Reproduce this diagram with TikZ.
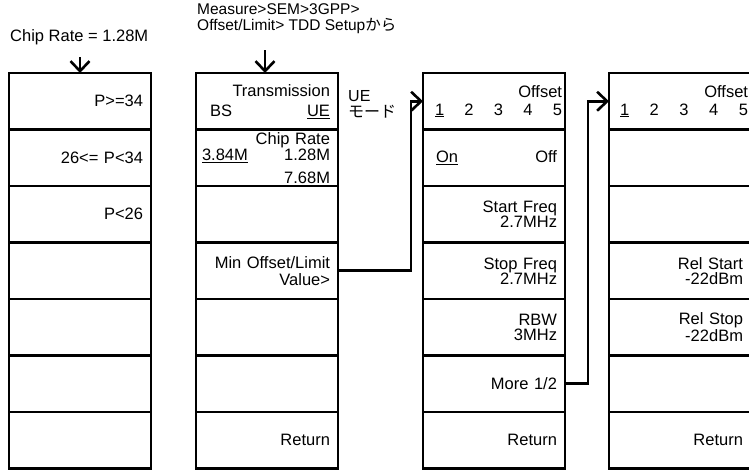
\documentclass[tikz,border=0pt]{standalone}
\usepackage{fontspec}
\setmainfont{Liberation Sans}
\newfontfamily\jpfont{Noto Sans CJK JP}
\usetikzlibrary{arrows.meta}
\newcommand{\spread}{\hspace{0pt plus 1filll}}

\begin{document}
\begin{tikzpicture}[x=1pt, y=-1pt, font=\fontsize{16.5}{16}\selectfont]
        \tikzset{
            menubox/.style={
                draw=black,
                line width=2.4pt,
                minimum width=142pt,
                minimum height=56.5pt,
                text width=126pt,
                inner xsep=8pt,
                inner ysep=0pt,
                outer sep=0pt,
                align=right
            },
            tightbox/.style={
                menubox,
                font=\fontsize{16.5}{15}\selectfont
            },
            headbox/.style={
                menubox,
                text width=136pt,
                inner xsep=3pt
            },
            caption/.style={inner sep=0pt, align=left},
            link/.style={-{Straight Barb[length=10pt, width=19pt]}, line width=2.6pt, draw=black}
        }

        \useasboundingbox (0, 0) rectangle (749, 471);

        % labels above the menus
        \node[caption, anchor=base west] (rate) at (10, 41.5) {Chip Rate = 1.28M};
        \node[caption, anchor=north west, font=\fontsize{15.5}{16.5}\selectfont] (path) at (197, 3)
            {Measure>SEM>3GPP>\\Offset/Limit> TDD Setup{\jpfont から}};
        \node[caption, anchor=north west, font=\fontsize{16}{16}\selectfont] (mode) at (348, 90)
            {UE\\{\jpfont モード}};

        % power menu
        \node[menubox] (pw1) at (80, 101.25) {P>=34};
        \node[menubox] (pw2) at (80, 157.75) {26<= P<34};
        \node[menubox] (pw3) at (80, 214.25) {P<26};
        \node[menubox] (pw4) at (80, 270.75) {};
        \node[menubox] (pw5) at (80, 327.25) {};
        \node[menubox] (pw6) at (80, 383.75) {};
        \node[menubox] (pw7) at (80, 440.25) {};

        % TDD setup menu
        \node[menubox] (ue1) at (267, 101.25)
            {Transmission\\[4pt]\hspace*{6pt}BS\spread\underline{UE}\hspace*{5pt}};
        \node[menubox] (ue2) at (267, 157.75)
            {Chip Rate\\\hspace*{-2pt}\underline{3.84M}\spread 1.28M\hspace*{5pt}\\[7pt]7.68M\hspace*{5pt}};
        \node[menubox] (ue3) at (267, 214.25) {};
        \node[menubox] (ue4) at (267, 270.75) {Min Offset/Limit\\[1pt]Value>};
        \node[menubox] (ue5) at (267, 327.25) {};
        \node[menubox] (ue6) at (267, 383.75) {};
        \node[menubox] (ue7) at (267, 440.25) {Return};

        % offset menu, page 1
        \node[headbox] (ofs1) at (494, 101.25)
            {Offset\\[2pt]\hspace*{9pt}\underline{1}\spread 2\spread 3\spread 4\spread 5};
        \node[menubox] (ofs2) at (494, 157.75) {\hspace*{5pt}\underline{On}\spread Off};
        \node[tightbox] (ofs3) at (494, 214.25) {Start Freq\\2.7MHz};
        \node[tightbox] (ofs4) at (494, 270.75) {Stop Freq\\2.7MHz};
        \node[menubox] (ofs5) at (494, 327.25) {RBW\\[-1pt]3MHz};
        \node[menubox] (ofs6) at (494, 383.75) {More 1/2};
        \node[menubox] (ofs7) at (494, 440.25) {Return};

        % offset menu, page 2
        \node[headbox] (rel1) at (680, 101.25)
            {Offset\\[2pt]\hspace*{8pt}\underline{1}\spread 2\spread 3\spread 4\spread 5};
        \node[menubox] (rel2) at (680, 157.75) {};
        \node[menubox] (rel3) at (680, 214.25) {};
        \node[tightbox] (rel4) at (680, 270.75) {Rel Start\\-22dBm};
        \node[tightbox] (rel5) at (680, 327.25) {Rel Stop\\-22dBm};
        \node[menubox] (rel6) at (680, 383.75) {};
        \node[menubox] (rel7) at (680, 440.25) {Return};

        % connectors
        \coordinate (in1) at (80, 57);
        \coordinate (in2) at (265, 50);
        \draw[link] (in1) -- (pw1.north);
        \draw[link] (in2) -- (in2 |- ue1.north);
        \draw[link] (ue4.east) -- ++(73, 0) |- (ofs1.west);
        \draw[link] (ofs6.east) -- ++(23, 0) |- (rel1.west);
    \end{tikzpicture}
\end{document}
